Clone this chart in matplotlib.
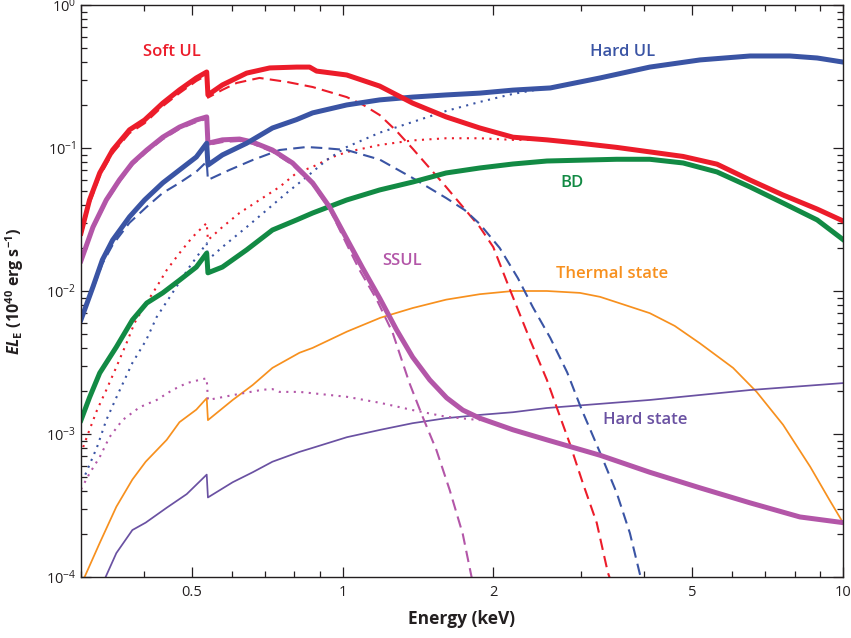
import numpy as np
import matplotlib
matplotlib.use("Agg")
import matplotlib.pyplot as plt
from matplotlib.ticker import FixedLocator, FixedFormatter, LogLocator, LogFormatterMathtext, NullFormatter

plt.rcParams['font.family'] = ['Open Sans', 'DejaVu Sans']
plt.rcParams['mathtext.fontset'] = 'custom'
plt.rcParams['mathtext.rm'] = 'Open Sans'
plt.rcParams['mathtext.it'] = 'Open Sans:italic:bold'
plt.rcParams['mathtext.bf'] = 'Open Sans:bold'

# === data (E in keV, EL_E in 1e40 erg/s) ===
# Soft UL: total, disk (dashed), power law (dotted)
soft_E = [0.300, 0.312, 0.327, 0.347, 0.375, 0.402, 0.437, 0.472, 0.510, 0.535, 0.538, 0.575, 0.643, 0.715,
          0.809, 0.859, 0.887, 1.019, 1.186, 1.38, 1.61, 1.88, 2.19, 2.56, 2.98, 3.53, 4.79, 5.6, 6.52, 7.59,
          8.88, 10.0]
soft_L = [0.0254, 0.0433, 0.0669, 0.0968, 0.134, 0.157, 0.206, 0.255, 0.309, 0.34, 0.235, 0.276, 0.334, 0.363,
          0.368, 0.368, 0.345, 0.324, 0.271, 0.206, 0.165, 0.138, 0.119, 0.114, 0.108, 0.101, 0.0873, 0.0771,
          0.0597, 0.0469, 0.0374, 0.0309]
soft_disk_E = [0.300, 0.312, 0.327, 0.347, 0.375, 0.402, 0.437, 0.472, 0.510, 0.535, 0.538, 0.575, 0.614, 0.682,
               0.773, 0.871, 1.019, 1.10, 1.186, 1.28, 1.38, 1.61, 1.88, 2.0, 2.16, 2.37, 2.56, 2.69, 2.84, 3.02,
               3.22, 3.39, 3.45]
soft_disk_L = [0.0241, 0.041, 0.0635, 0.092, 0.127, 0.149, 0.196, 0.242, 0.294, 0.323, 0.225, 0.255, 0.285,
               0.309, 0.29, 0.267, 0.227, 0.2, 0.170, 0.132, 0.099, 0.0534, 0.028, 0.0203, 0.0102, 0.00454,
               0.00239, 0.00147, 0.00087, 0.000454, 0.000239, 0.000107, 0.00009]
soft_pl_E = [0.303, 0.312, 0.323, 0.337, 0.353, 0.370, 0.384, 0.405, 0.425, 0.445, 0.472, 0.501, 0.535, 0.538,
             0.575, 0.622, 0.682, 0.748, 0.809, 0.871, 0.955, 1.019, 1.186, 1.38, 1.61, 1.88, 2.19, 2.56, 2.98]
soft_pl_L = [0.00081, 0.00107, 0.00147, 0.00203, 0.00294, 0.00433, 0.006, 0.0082, 0.0107, 0.014, 0.0184,
             0.0238, 0.0299, 0.0227, 0.028, 0.0351, 0.0433, 0.0534, 0.0669, 0.0738, 0.0865, 0.0937, 0.105,
             0.113, 0.117, 0.117, 0.114, 0.114, 0.108]

# Hard UL
hard_E = [0.300, 0.317, 0.331, 0.347, 0.375, 0.402, 0.437, 0.472, 0.510, 0.535, 0.538, 0.575, 0.643, 0.724,
          0.809, 0.871, 1.019, 1.186, 1.38, 1.61, 1.88, 2.19, 2.6, 3.27, 4.11, 5.18, 6.52, 7.83, 8.88, 10.0]
hard_L = [0.0063, 0.0107, 0.0165, 0.0227, 0.033, 0.0433, 0.057, 0.0702, 0.0865, 0.108, 0.076, 0.0894, 0.108,
          0.138, 0.158, 0.176, 0.2, 0.217, 0.227, 0.235, 0.242, 0.254, 0.263, 0.309, 0.368, 0.413, 0.44, 0.44,
          0.426, 0.399]
hard_disk_E = [0.300, 0.317, 0.331, 0.347, 0.375, 0.406, 0.437, 0.472, 0.510, 0.535, 0.538, 0.594, 0.661, 0.748,
               0.847, 0.912, 1.019, 1.186, 1.38, 1.61, 1.754, 1.88, 2.06, 2.24, 2.40, 2.60, 2.81, 3.0, 3.27, 3.53,
               3.75, 3.94]
hard_disk_L = [0.0062, 0.0103, 0.0155, 0.021, 0.030, 0.0388, 0.0485, 0.057, 0.0683, 0.0803, 0.0598, 0.0702,
               0.0824, 0.0968, 0.1016, 0.1, 0.0968, 0.083, 0.0617, 0.0447, 0.0368, 0.0294, 0.02, 0.0123, 0.0077,
               0.0047, 0.0027, 0.0015, 0.00074, 0.000387, 0.000203, 0.0001]
hard_pl_E = [0.306, 0.323, 0.337, 0.353, 0.380, 0.405, 0.425, 0.457, 0.494, 0.535, 0.538, 0.575, 0.643, 0.705,
             0.773, 0.847, 0.929, 1.019, 1.186, 1.38, 1.61, 1.88, 2.19, 2.56]
hard_pl_L = [0.00052, 0.00081, 0.00125, 0.0018, 0.00314, 0.00454, 0.00658, 0.0097, 0.0147, 0.0216, 0.0165,
             0.0203, 0.028, 0.0368, 0.0485, 0.0627, 0.0824, 0.1016, 0.128, 0.152, 0.1815, 0.21, 0.239, 0.263]

# BD
bd_E = [0.300, 0.312, 0.327, 0.353, 0.380, 0.406, 0.437, 0.472, 0.510, 0.535, 0.538, 0.575, 0.643, 0.724,
        0.809, 0.871, 1.019, 1.186, 1.38, 1.61, 1.88, 2.19, 2.56, 3.53, 4.11, 4.79, 5.6, 6.52, 7.59, 8.88, 10.0]
bd_L = [0.00125, 0.0018, 0.00267, 0.00406, 0.00627, 0.00824, 0.0097, 0.0119, 0.0147, 0.0184, 0.0134, 0.0147,
        0.0194, 0.0267, 0.0314, 0.0351, 0.0433, 0.0509, 0.0578, 0.0669, 0.0725, 0.0773, 0.0811, 0.0834, 0.0834,
        0.0786, 0.068, 0.0534, 0.0412, 0.0314, 0.0229]

# SSUL
ssul_E = [0.300, 0.317, 0.337, 0.358, 0.380, 0.406, 0.437, 0.472, 0.510, 0.535, 0.538, 0.575, 0.622, 0.661,
          0.724, 0.794, 0.871, 0.942, 1.019, 1.096, 1.186, 1.282, 1.380, 1.493, 1.614, 1.738, 1.88, 2.19, 2.56,
          3.27, 4.11, 5.18, 6.52, 8.2, 10.0]
ssul_L = [0.0163, 0.028, 0.0433, 0.0598, 0.0786, 0.0968, 0.119, 0.14, 0.157, 0.165, 0.108, 0.114, 0.1155, 0.11,
          0.0968, 0.0786, 0.057, 0.0386, 0.0232, 0.0145, 0.0089, 0.00534, 0.00345, 0.00239, 0.00179, 0.00147,
          0.00129, 0.00107, 0.00091, 0.00071, 0.00054, 0.00042, 0.00033, 0.000263, 0.00024]
ssul_disk_E = [0.300, 0.317, 0.337, 0.358, 0.380, 0.406, 0.437, 0.472, 0.510, 0.535, 0.538, 0.575, 0.622, 0.661,
               0.724, 0.794, 0.871, 0.942, 1.019, 1.081, 1.17, 1.259, 1.36, 1.445, 1.54, 1.637, 1.738, 1.81, 1.83]
ssul_disk_L = [0.0158, 0.0272, 0.042, 0.058, 0.0762, 0.0939, 0.115, 0.136, 0.152, 0.16, 0.105, 0.11, 0.112,
               0.107, 0.094, 0.0762, 0.0553, 0.0374, 0.0212, 0.014, 0.0087, 0.0051, 0.00227, 0.00132, 0.00077,
               0.000405, 0.0002, 0.0001, 0.00009]
ssul_pl_E = [0.300, 0.312, 0.327, 0.342, 0.363, 0.393, 0.425, 0.457, 0.488, 0.525, 0.535, 0.538, 0.603, 0.692,
             0.724, 0.748, 0.82, 1.02, 1.19, 1.38, 1.61, 1.88]
ssul_pl_L = [0.00041, 0.00053, 0.00069, 0.00095, 0.00125, 0.00154, 0.00173, 0.00203, 0.00227, 0.00242, 0.00245,
             0.00173, 0.00187, 0.00204, 0.00206, 0.00197, 0.00197, 0.00182, 0.00165, 0.00147, 0.00132, 0.00125]

# Thermal state and hard state
thermal_E = [0.305, 0.327, 0.353, 0.380, 0.404, 0.445, 0.472, 0.510, 0.535, 0.538, 0.603, 0.661, 0.724, 0.82,
             0.871, 1.02, 1.19, 1.38, 1.61, 1.88, 2.19, 2.56, 2.98, 3.27, 3.66, 4.11, 4.61, 5.18, 6.03, 6.72,
             7.59, 8.6, 9.4, 10.0]
thermal_L = [0.0001, 0.000173, 0.00031, 0.00048, 0.00064, 0.00091, 0.00121, 0.00148, 0.00178, 0.00125, 0.00173,
             0.0022, 0.0029, 0.0037, 0.004, 0.0052, 0.0065, 0.0076, 0.0087, 0.0095, 0.01, 0.01, 0.0097, 0.0091,
             0.0080, 0.007, 0.0057, 0.0043, 0.0029, 0.00197, 0.00116, 0.00059, 0.000345, 0.00024]
hardst_E = [0.336, 0.353, 0.380, 0.404, 0.445, 0.488, 0.535, 0.538, 0.603, 0.661, 0.724, 0.82, 0.871, 1.02,
            1.19, 1.38, 1.61, 1.88, 2.19, 2.56, 4.11, 6.52, 10.0]
hardst_L = [0.0001, 0.000147, 0.000213, 0.00024, 0.000305, 0.00038, 0.00052, 0.00036, 0.00046, 0.00054, 0.00064,
            0.00075, 0.0008, 0.00095, 0.00107, 0.00119, 0.00129, 0.00136, 0.00142, 0.00152, 0.00173, 0.00203,
            0.00227]

RED = '#ec1c2a'
BLUE = '#3a54a4'
GREEN = '#128a44'
MAGENTA = '#b356a8'
ORANGE = '#f7901e'
PURPLE = '#6a51a2'
INK = '#231f20'

THICK, THIN, COMP = 3.6, 1.25, 1.5
DASH = (0, (5.5, 3))
DOT = (0, (1, 2.6))

fig = plt.figure(figsize=(8.51, 6.38), dpi=100)
ax = fig.add_axes([81 / 851, 61 / 638, 762 / 851, 572 / 638])

ax.plot(thermal_E, thermal_L, color=ORANGE, lw=THIN)
ax.plot(hardst_E, hardst_L, color=PURPLE, lw=THIN)

ax.plot(soft_pl_E, soft_pl_L, color=RED, lw=COMP, ls=DOT)
ax.plot(hard_pl_E, hard_pl_L, color=BLUE, lw=COMP, ls=DOT)
ax.plot(ssul_pl_E, ssul_pl_L, color=MAGENTA, lw=COMP, ls=DOT)

ax.plot(soft_disk_E, soft_disk_L, color=RED, lw=COMP, ls=DASH)
ax.plot(hard_disk_E, hard_disk_L, color=BLUE, lw=COMP, ls=DASH)
ax.plot(ssul_disk_E, ssul_disk_L, color=MAGENTA, lw=COMP, ls=DASH)

ax.plot(bd_E, bd_L, color=GREEN, lw=THICK, solid_joinstyle='round')
ax.plot(ssul_E, ssul_L, color=MAGENTA, lw=THICK, solid_joinstyle='round')
ax.plot(hard_E, hard_L, color=BLUE, lw=THICK, solid_joinstyle='round')
ax.plot(soft_E, soft_L, color=RED, lw=THICK, solid_joinstyle='round')

ax.set_xscale('log')
ax.set_yscale('log')
ax.set_xlim(0.3, 10)
ax.set_ylim(1e-4, 1)

ax.xaxis.set_major_locator(FixedLocator([0.5, 1, 2, 5, 10]))
ax.xaxis.set_major_formatter(FixedFormatter(['0.5', '1', '2', '5', '10']))
ax.xaxis.set_minor_locator(FixedLocator([0.3, 0.4, 0.6, 0.7, 0.8, 0.9, 3, 4, 6, 7, 8, 9]))
ax.xaxis.set_minor_formatter(NullFormatter())
ax.yaxis.set_major_locator(LogLocator(base=10, numticks=10))
ax.yaxis.set_major_formatter(LogFormatterMathtext())
ax.yaxis.set_minor_locator(LogLocator(base=10, subs=np.arange(2, 10), numticks=20))
ax.yaxis.set_minor_formatter(NullFormatter())

ax.tick_params(which='both', direction='in', top=True, right=True, color=INK, width=0.9,
               labelsize=10.5, labelcolor=INK)
ax.tick_params(which='major', length=7)
ax.tick_params(which='minor', length=4)
ax.tick_params(axis='x', pad=6)
for s in ax.spines.values():
    s.set_color(INK)
    s.set_linewidth(1.0)

ax.set_xlabel('Energy (keV)', fontsize=12.5, fontweight='bold', color=INK, labelpad=7)
ax.set_ylabel(r'$EL_{\mathbf{E}}$ (10$^{\mathbf{40}}$ erg s$^{\mathbf{-1}}$)', fontsize=11.5,
              fontweight='bold', color=INK, labelpad=14)

lab = dict(transform=ax.transAxes, ha='center', va='center', fontsize=12, fontweight='semibold')
ax.text(0.119, 0.918, 'Soft UL', color=RED, **lab)
ax.text(0.711, 0.918, 'Hard UL', color=BLUE, **lab)
ax.text(0.644, 0.689, 'BD', color=GREEN, **lab)
ax.text(0.421, 0.552, 'SSUL', color=MAGENTA, **lab)
ax.text(0.697, 0.530, 'Thermal state', color=ORANGE, **lab)
ax.text(0.740, 0.274, 'Hard state', color=PURPLE, **lab)

fig.savefig('out.png', dpi=100)
